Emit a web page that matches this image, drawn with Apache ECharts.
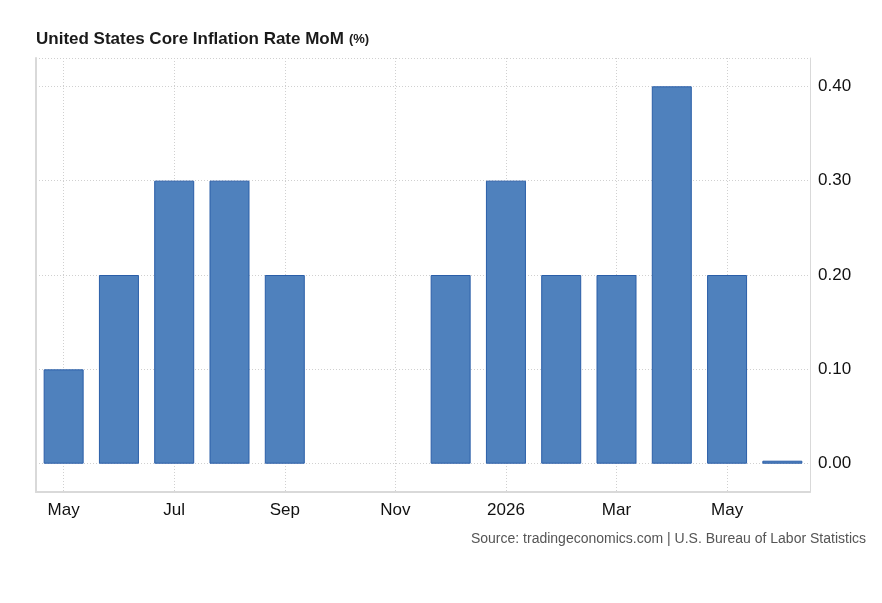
<!DOCTYPE html>
<html>
<head>
<meta charset="utf-8">
<script src="https://cdn.jsdelivr.net/npm/echarts@6/dist/echarts.min.js"></script>
<style>
html,body{margin:0;padding:0;background:#fff;}
#c{width:882px;height:603px;}
</style>
</head>
<body>
<div id="c"></div>
<script>
const categories = ['May','Jun','Jul','Aug','Sep','Oct','Nov','Dec','2026','Feb','Mar','Apr','May','Jun'];
const values = [0.1, 0.2, 0.3, 0.3, 0.2, null, null, 0.2, 0.3, 0.2, 0.2, 0.4, 0.2, 0.0];
const titleText = 'United States Core Inflation Rate MoM';
const unitText = '(%)';
const sourceText = 'Source: tradingeconomics.com | U.S. Bureau of Labor Statistics';

const chart = echarts.init(document.getElementById('c'), null, {renderer: 'canvas'});
const font = 'Liberation Sans, Arial, Helvetica, sans-serif';
const gridLine = {color: '#d0d0d0', type: [1, 2], width: 1};
chart.setOption({
  animation: false,
  textStyle: {fontFamily: font},
  title: [{
    text: '{t|' + titleText + '} {u|' + unitText + '}',
    left: 31, top: 25,
    textStyle: {
      rich: {
        t: {fontFamily: font, fontSize: 17, fontWeight: 'bold', color: '#1a1a1a'},
        u: {fontFamily: font, fontSize: 13, fontWeight: 'bold', color: '#1a1a1a'}
      }
    }
  }, {
    text: sourceText,
    right: 11, top: 527,
    textStyle: {fontFamily: font, fontSize: 14, fontWeight: 'normal', color: '#555'}
  }],
  grid: {left: 36, right: 72, top: 58, bottom: 111, containLabel: false},
  xAxis: {
    type: 'category',
    data: categories,
    boundaryGap: true,
    axisLine: {show: true, onZero: false, lineStyle: {color: '#d9d9d9', width: 2}},
    axisTick: {show: false, alignWithLabel: true, interval: 1},
    axisLabel: {interval: 1, color: '#111', fontSize: 17, margin: 10, fontFamily: font},
    splitLine: {show: true, interval: 1, alignWithLabel: true, lineStyle: gridLine}
  },
  yAxis: [{
    type: 'value',
    position: 'right',
    min: -0.03,
    max: 0.43,
    splitNumber: 5,
    axisLine: {show: true, lineStyle: {color: '#d9d9d9', width: 1}},
    axisTick: {show: false},
    axisLabel: {
      showMinLabel: false, showMaxLabel: false,
      color: '#111', fontSize: 17, margin: 8, fontFamily: font,
      formatter: v => v.toFixed(2)
    },
    splitLine: {show: true, lineStyle: gridLine}
  }, {
    type: 'value',
    position: 'left',
    min: -0.03,
    max: 0.43,
    axisLine: {show: true, onZero: false, lineStyle: {color: '#d9d9d9', width: 2}},
    axisTick: {show: false},
    axisLabel: {show: false},
    splitLine: {show: false}
  }],
  series: [{
    type: 'bar',
    data: values,
    barWidth: 40,
    barMinHeight: 3,
    itemStyle: {color: '#4f81bd', borderColor: '#2a5ea8', borderWidth: 1}
  }]
});
</script>
</body>
</html>
